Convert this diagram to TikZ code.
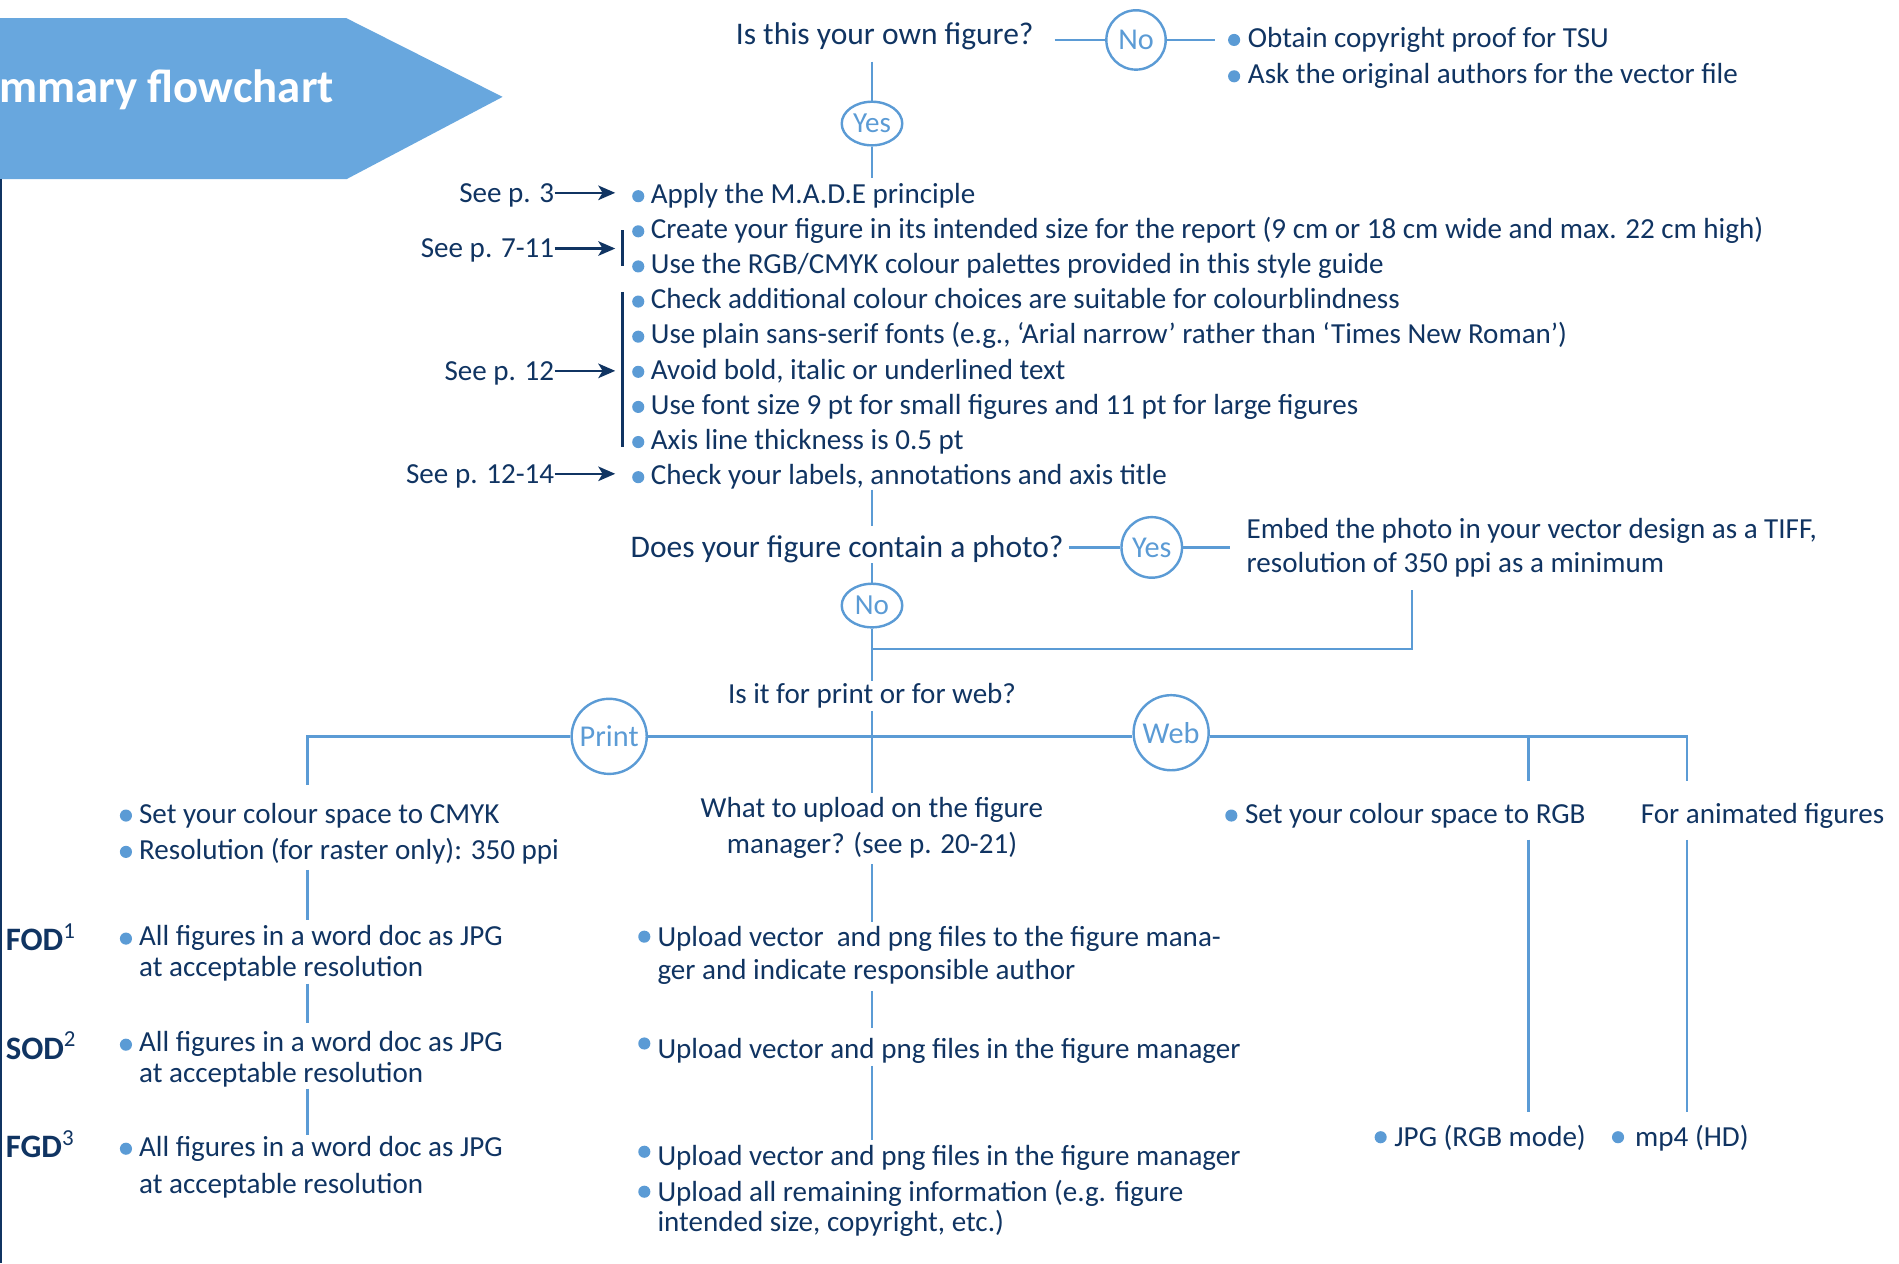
\documentclass[tikz,border=0pt]{standalone}
\usepackage{fontspec}
\setmainfont{Carlito}
\usetikzlibrary{shapes.geometric,arrows.meta,calc}
\definecolor{navy}{RGB}{16,52,98}
\definecolor{lb}{RGB}{91,155,213}
\definecolor{banner}{RGB}{104,167,222}
\tikzset{
  txt/.style={inner sep=0pt, text=navy, font=\fontsize{12pt}{14pt}\selectfont},
  qtxt/.style={txt, font=\fontsize{13pt}{15pt}\selectfont},
  ln/.style={draw=lb, line width=1pt},
  ell/.style={ellipse, draw=lb, line width=1pt, inner sep=0pt, minimum width=25pt, minimum height=18pt, text=lb, font=\fontsize{12pt}{14pt}\selectfont},
  circ/.style={circle, draw=lb, line width=1pt, inner sep=0pt, text=lb, font=\fontsize{12.5pt}{14pt}\selectfont},
  arr/.style={draw=navy, line width=1pt, -{Stealth[length=7pt,width=6pt,inset=1.8pt]}},
  brk/.style={draw=navy, line width=1pt},
  seep/.style={txt, anchor=base east, text depth=0pt},
  fodl/.style={txt, anchor=base west, font=\fontsize{13.5pt}{15pt}\selectfont\bfseries}
}
% name, x, y (baseline), bullet dx, bullet dy, text
\newcommand\bulitem[6]{%
  \node[txt,anchor=base west] (#1) at (#2,#3) {#6};
  \fill[lb] ($(#1.base west)+(-#4,-#5)$) circle[radius=2.5pt];}
\begin{document}
\begin{tikzpicture}[x=0.5pt,y=-0.5pt]
\useasboundingbox (0,0) rectangle (1568,1043);
% banner
\fill[banner] (-5,15) -- (286,15) -- (415,80) -- (286,148) -- (-5,148) -- cycle;
\node[anchor=base west, inner sep=0pt, text=white, font=\fontsize{19.3pt}{22pt}\selectfont\bfseries] (title) at (-1,85) {mmary flowchart};
\draw[navy, line width=0.8pt] (0.8,148) -- (0.8,1043);

\coordinate (cm) at (720,608);
% top question
\node[qtxt, anchor=base] (q1) at (730.5,37) {Is this your own figure?};
\node[circ, minimum size=24.5pt] (no1) at (938,33) {No};
\bulitem{ob1}{1030}{39}{11}{6}{Obtain copyright proof for TSU}
\bulitem{ob2}{1030}{69}{11}{6}{Ask the original authors for the vector file}
\node[ell] (yes1) at (720,102) {Yes};
\draw[ln, shorten <=8.5pt] (q1.east |- no1.west) -- (no1.west);
\draw[ln, shorten >=13.5pt] (no1.east) -- (no1.east -| ob1.west);
\draw[ln, shorten <=4.5pt] (yes1.north |- q1.south) -- (yes1.north);

% checklist
\bulitem{l1}{537}{168}{10}{6}{Apply the M.A.D.E principle}
\bulitem{l2}{537}{197}{10}{6}{Create your figure in its intended size for the report (9 cm or 18 cm wide and max. 22 cm high)}
\bulitem{l3}{537}{226}{10}{6}{Use the RGB/CMYK colour palettes provided in this style guide}
\bulitem{l4}{537}{255}{10}{6}{Check additional colour choices are suitable for colourblindness}
\bulitem{l5}{537}{284}{10}{6}{Use plain sans-serif fonts (e.g., ‘Arial narrow’ rather than ‘Times New Roman’)}
\bulitem{l6}{537}{313}{10}{6}{Avoid bold, italic or underlined text}
\bulitem{l7}{537}{342}{10}{6}{Use font size 9 pt for small figures and 11 pt for large figures}
\bulitem{l8}{537}{371}{10}{6}{Axis line thickness is 0.5 pt}
\bulitem{l9}{537}{400}{10}{6}{Check your labels, annotations and axis title}
\draw[ln, shorten >=2pt] (yes1.south) -- (yes1.south |- l1.north);

% page references
\node[seep] (s1) at (458,167) {See p. 3};
\node[seep] (s2) at (458,213) {See p. 7-11};
\node[seep] (s3) at (458,314) {See p. 12};
\node[seep] (s4) at (458,399) {See p. 12-14};
\coordinate (ax) at (508,0);
\draw[arr] (s1.east) -- (s1.east -| ax);
\draw[arr] (s2.east) -- (s2.east -| ax);
\draw[arr] (s3.east) -- (s3.east -| ax);
\draw[arr] (s4.east) -- (s4.east -| ax);
\draw[brk] (514,190) -- (514,220);
\draw[brk] (514,241) -- (514,369);

% photo question
\node[qtxt, anchor=base] (q2) at (699.5,460) {Does your figure contain a photo?};
\draw[ln, shorten >=3.5pt] (cm |- l9.south) -- (cm |- q2.north);
\node[circ, minimum size=25pt] (yes2) at (951,452) {Yes};
\draw[ln, shorten <=2pt] (q2.east |- yes2.west) -- (yes2.west);
\node[txt, anchor=base west] (emb1) at (1029,445) {Embed the photo in your vector design as a TIFF,};
\node[txt, anchor=base west] (emb2) at (1029,473) {resolution of 350 ppi as a minimum};
\draw[ln, shorten >=6.5pt] (yes2.east) -- (yes2.east -| emb1.west);
\node[ell] (no2) at (720,500) {No};
\draw[ln] (cm |- q2.south) -- (no2.north);
\coordinate (cc) at (1166,536);
\draw[ln, shorten <=5pt] (cc |- emb2.south) -- (cc) -- (cc -| cm);
\node[txt, anchor=base] (q3) at (720,581) {Is it for print or for web?};
\draw[ln, shorten >=1pt] (no2.south) -- (no2.south |- q3.north);

% print / web
\node[circ, minimum size=31pt] (print) at (503,608) {Print};
\node[circ, minimum size=31pt] (web) at (967,605) {Web};
\coordinate (cl) at (254,608);
\coordinate (cr1) at (1262,608);
\coordinate (cr2) at (1393,608);
\node[txt, anchor=base] (wu1) at (720,675) {What to upload on the figure};
\node[txt, anchor=base] (wu2) at (720,705) {manager? (see p. 20-21)};
\draw[ln, shorten <=1pt, shorten >=1.5pt] (q3.south) -- (q3.south |- wu1.north);

\bulitem{pl1}{114.5}{680}{10.5}{6.6}{Set your colour space to CMYK}
\bulitem{pl2}{114.5}{710}{10.5}{6.6}{Resolution (for raster only): 350 ppi}
\bulitem{rgb}{1027.7}{680}{11}{6.6}{Set your colour space to RGB}
\node[txt, anchor=base west] (anim) at (1354.5,680) {For animated figures};

\draw[ln, shorten >=7.5pt] (print.west) -- (cl) -- (cl |- pl1.north);
\draw[ln] (print.east) -- (print.east -| web.west);
\draw[ln, shorten >=9pt] (web.east |- print.east) -- (cr2) -- (cr2 |- anim.north);
\draw[ln, shorten >=9pt] (cr1) -- (cr1 |- rgb.north);

% draft labels
\node[fodl] (fod) at (4.4,785) {FOD\textsuperscript{\mdseries 1}};
\node[fodl] (sod) at (4.4,874.6) {SOD\textsuperscript{\mdseries 2}};
\node[fodl] (fgd) at (4.4,956) {FGD\textsuperscript{\mdseries 3}};

% print column
\bulitem{f1a}{114.5}{781}{10.5}{6}{All figures in a word doc as JPG}
\node[txt, anchor=base west] (f1b) at (114.5,806) {at acceptable resolution};
\bulitem{f2a}{114.5}{868.6}{10.5}{6}{All figures in a word doc as JPG}
\node[txt, anchor=base west] (f2b) at (114.5,893.7) {at acceptable resolution};
\bulitem{f3a}{114.5}{954.5}{10.5}{6}{All figures in a word doc as JPG}
\node[txt, anchor=base west] (f3b) at (114.5,985.6) {at acceptable resolution};
\draw[ln, shorten <=2pt, shorten >=2pt] (cl |- pl2.south) -- (cl |- f1a.north);
\draw[ln, shorten <=1pt, shorten >=3.3pt] (cl |- f1b.south) -- (cl |- f2a.north);
\draw[ln, shorten <=0.5pt] (cl |- f2b.south) -- (cl |- f3a.north);

% upload column
\bulitem{up1}{542.5}{781.7}{10.5}{8.3}{Upload vector~ and png files to the figure mana-}
\node[txt, anchor=base west] (up1b) at (542.5,809) {ger and indicate responsible author};
\bulitem{up2}{542.5}{873.6}{10.5}{12}{Upload vector and png files in the figure manager}
\bulitem{up3}{542.5}{962}{10.5}{11}{Upload vector and png files in the figure manager}
\bulitem{up4}{542.5}{992}{10.5}{8}{Upload all remaining information (e.g. figure}
\node[txt, anchor=base west] (up4b) at (542.5,1017) {intended size, copyright, etc.)};
\draw[ln, shorten <=2pt, shorten >=1.5pt] (cm |- wu2.south) -- (cm |- up1.north);
\draw[ln, shorten <=2.5pt, shorten >=4pt] (cm |- up1b.south) -- (cm |- up2.north);
\draw[ln, shorten <=1pt, shorten >=2pt] (cm |- up2.south) -- (cm |- up3.north);

% web column
\bulitem{jpg}{1151}{947}{11}{8}{JPG (RGB mode)}
\bulitem{mp4}{1349.8}{947}{13.8}{8}{mp4 (HD)}
\draw[ln, shorten <=4.5pt, shorten >=5.5pt] (cr1 |- rgb.south) -- (cr1 |- jpg.north);
\draw[ln, shorten <=4.5pt, shorten >=5.5pt] (cr2 |- anim.south) -- (cr2 |- mp4.north);
\end{tikzpicture}
\end{document}
